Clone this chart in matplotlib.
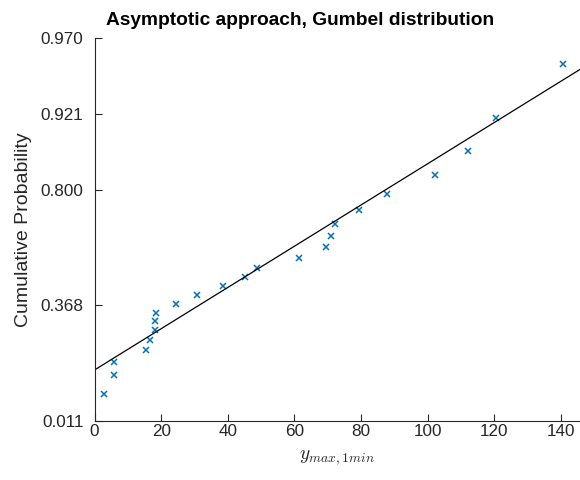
import numpy as np
import matplotlib
matplotlib.use("Agg")
import matplotlib.pyplot as plt

# Data
x_values = [3.0, 6.0, 6.0, 15.6, 16.6, 18.3, 18.3, 18.5, 24.6, 30.9, 38.7, 45.1,
            48.7, 61.3, 69.4, 71.1, 72.3, 79.5, 87.7, 102.2, 112.1, 120.6, 140.6]
cum_prob = [0.042, 0.083, 0.125, 0.167, 0.208, 0.250, 0.292, 0.333, 0.375, 0.417,
            0.458, 0.500, 0.542, 0.583, 0.625, 0.667, 0.708, 0.750, 0.792, 0.833,
            0.875, 0.917, 0.958]
fit_loc = 31.3
fit_scale = 37.2
prob_ticks = [0.011, 0.368, 0.800, 0.921, 0.970]
x_ticks = [0, 20, 40, 60, 80, 100, 120, 140]

def gumbel_z(p):
    p = np.asarray(p, dtype=float)
    return -np.log(-np.log(p))

plt.rcParams['font.family'] = ['Liberation Sans', 'DejaVu Sans']
plt.rcParams['mathtext.fontset'] = 'cm'

fig = plt.figure(figsize=(5.8, 4.8), dpi=100)
ax = fig.add_axes([94.5/580, 1-421/480, 1-94.5/580, (421-37.5)/480])

dark = '#262626'
ax.plot(x_values, gumbel_z(cum_prob), linestyle='none', marker='x',
        color='#0072BD', markersize=5, markeredgewidth=1.1)

xlim = (0, 145.7)
xl = np.array(xlim)
ax.plot(xl, (xl - fit_loc) / fit_scale, color='black', linewidth=0.9)

ax.set_xlim(*xlim)
ax.set_ylim(gumbel_z(prob_ticks[0]), gumbel_z(prob_ticks[-1]))
ax.set_xticks(x_ticks)
ax.set_yticks(gumbel_z(prob_ticks))
ax.set_yticklabels([f"{p:.3f}" for p in prob_ticks])

for s in ['top', 'right']:
    ax.spines[s].set_visible(False)
for s in ['left', 'bottom']:
    ax.spines[s].set_color(dark)
    ax.spines[s].set_linewidth(0.8)
ax.tick_params(direction='in', length=5, width=0.8, colors=dark, labelsize=12.3)
ax.tick_params(axis='x', pad=2.5)
ax.tick_params(axis='y', pad=8)

fig.text(300.5/580, 1 - 25/480, 'Asymptotic approach, Gumbel distribution',
         fontsize=13.8, fontweight='bold', color='black', ha='center', va='baseline')
ax.set_ylabel('Cumulative Probability', fontsize=14, color=dark, labelpad=6)
ax.set_xlabel(r'$y_{max,1min}$', fontsize=14, color=dark, labelpad=6)

fig.savefig('out.png', dpi=100)
